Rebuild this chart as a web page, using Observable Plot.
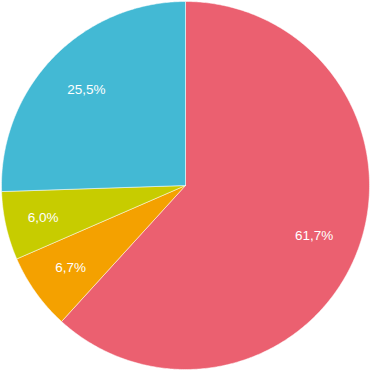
<!DOCTYPE html>
<html>
<head>
<meta charset="utf-8">
<script src="https://cdn.jsdelivr.net/npm/d3@7"></script>
<script src="https://cdn.jsdelivr.net/npm/@observablehq/plot@0.6"></script>
<style>
  html, body { margin: 0; padding: 0; background: #fff; }
  #chart { width: 370px; height: 370px; }
</style>
</head>
<body>
<div id="chart"></div>
<script>
// Data
const categories = ["A", "B", "C", "D"];
const values = [61.7, 6.7, 6.0, 25.5];
const labels = ["61,7%", "6,7%", "6,0%", "25,5%"];
const colors = ["#eb6070", "#f4a100", "#c7cc00", "#43b9d4"];

// Build slices through d3.pie (angles clockwise from top)
const arcs = d3.pie().sort(null).value(d => d)(values);
const outline = [];
const labelRows = [];
arcs.forEach((a, i) => {
  const cat = categories[i];
  const n = Math.max(4, Math.ceil((a.endAngle - a.startAngle) / 0.01));
  outline.push({cat, x: 0, y: 0});
  for (let k = 0; k <= n; k++) {
    const t = a.startAngle + (a.endAngle - a.startAngle) * k / n;
    outline.push({cat, x: Math.sin(t), y: Math.cos(t)});
  }
  outline.push({cat, x: 0, y: 0});
  const span = a.endAngle - a.startAngle;
  const mid = (a.startAngle + a.endAngle) / 2;
  const r = 0.75 + Math.max(0, 0.45 - span) * 0.6;
  labelRows.push({cat, label: labels[i], x: r * Math.sin(mid), y: r * Math.cos(mid)});
});

const chart = Plot.plot({
  width: 370,
  height: 370,
  marginLeft: 1,
  marginRight: 1,
  marginTop: 1,
  marginBottom: 1,
  x: {domain: [-1, 1], axis: null},
  y: {domain: [-1, 1], axis: null},
  color: {domain: categories, range: colors},
  style: {background: "white"},
  marks: [
    Plot.line(outline, {x: "x", y: "y", z: "cat", fill: "cat", stroke: "white", strokeWidth: 0.5, curve: "linear"}),
    Plot.text(labelRows, {x: "x", y: "y", text: "label", fill: "white", fontSize: 13.5, fontFamily: "Liberation Sans, Arial, sans-serif"})
  ]
});
document.getElementById("chart").appendChild(chart);
</script>
</body>
</html>
